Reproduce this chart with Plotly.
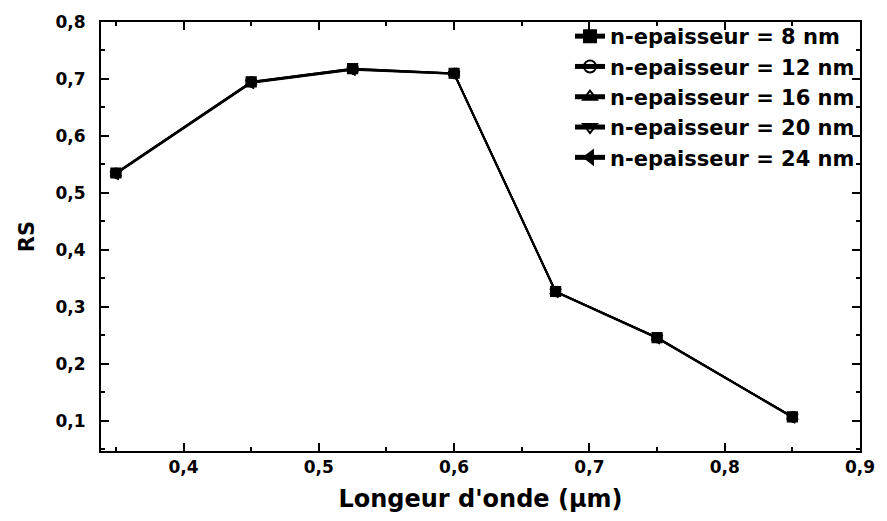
import plotly.graph_objects as go

# Wavelength (µm) and RS values for each n-layer thickness
wavelength = [0.35, 0.45, 0.525, 0.6, 0.675, 0.75, 0.85]
rs_8nm = [0.535, 0.695, 0.718, 0.710, 0.327, 0.246, 0.107]
rs_12nm = [0.535, 0.695, 0.718, 0.710, 0.327, 0.246, 0.107]
rs_16nm = [0.534, 0.694, 0.717, 0.710, 0.327, 0.246, 0.107]
rs_20nm = [0.534, 0.694, 0.717, 0.709, 0.327, 0.246, 0.107]
rs_24nm = [0.533, 0.693, 0.716, 0.709, 0.326, 0.245, 0.106]

series_names = [
    "n-epaisseur = 8 nm",
    "n-epaisseur = 12 nm",
    "n-epaisseur = 16 nm",
    "n-epaisseur = 20 nm",
    "n-epaisseur = 24 nm",
]
series_values = [rs_8nm, rs_12nm, rs_16nm, rs_20nm, rs_24nm]
symbols = ["square", "circle-open", "triangle-up-open", "triangle-down-open", "triangle-left"]
marker_edges = ["black", "#555555", "#555555", "#555555", "black"]

font_family = "DejaVu Sans, Liberation Sans, Arial, sans-serif"

fig = go.Figure()
for name, vals, sym, edge in zip(series_names, series_values, symbols, marker_edges):
    fig.add_trace(go.Scatter(
        x=wavelength, y=vals, name=name, mode="lines+markers",
        line=dict(color="black", width=1.8),
        marker=dict(symbol=sym, size=10, color="black",
                    line=dict(color=edge, width=1.2)),
    ))

axis_common = dict(
    showline=True, linecolor="black", linewidth=2, mirror="ticks",
    ticks="inside", ticklen=8, tickwidth=2, tickcolor="black",
    showgrid=False, zeroline=False,
    tickfont=dict(family=font_family, size=17, color="black", weight="bold"),
)

fig.update_xaxes(
    range=[0.339, 0.9], tick0=0.4, dtick=0.1, tickformat=".1f",
    minor=dict(ticks="inside", ticklen=4, tickwidth=2, tickcolor="black", dtick=0.05, tick0=0.35),
    title=dict(text="Longeur d'onde (µm)", standoff=14,
               font=dict(family=font_family, size=24, color="black", weight="bold")),
    **axis_common,
)
fig.update_yaxes(
    range=[0.047, 0.8], tick0=0.1, dtick=0.1, tickformat=".1f",
    ticklabelstandoff=10,
    minor=dict(ticks="inside", ticklen=4, tickwidth=2, tickcolor="black", dtick=0.05, tick0=0.05),
    title=dict(text="RS", standoff=15,
               font=dict(family=font_family, size=21, color="black", weight="bold")),
    **axis_common,
)

fig.update_layout(
    width=887, height=521,
    margin=dict(l=101, r=17, t=22, b=70),
    paper_bgcolor="white", plot_bgcolor="white",
    separators=",.",
    showlegend=True,
    legend=dict(
        x=1.0, y=1.014, xanchor="right", yanchor="top",
        bgcolor="rgba(255,255,255,0)", borderwidth=0,
        font=dict(family=font_family, size=21, color="black", weight="bold"),
        itemsizing="constant", tracegroupgap=0,
    ),
)

fig.write_html("out.html")
